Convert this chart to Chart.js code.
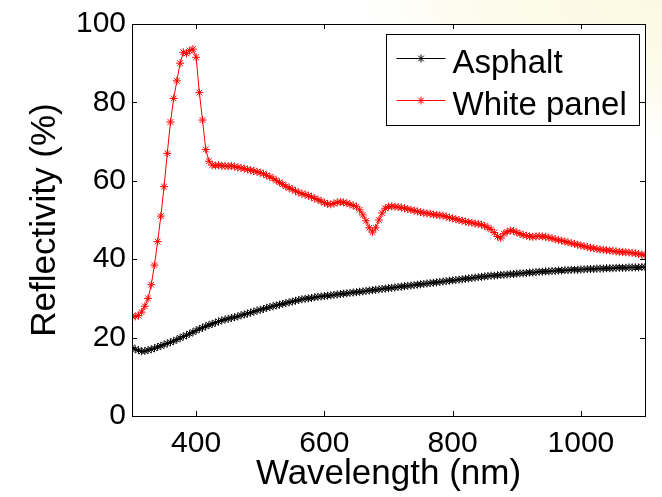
<!DOCTYPE html>
<html>
<head>
<meta charset="utf-8">
<script src="https://cdn.jsdelivr.net/npm/chart.js@4"></script>
<style>
  html, body { margin: 0; padding: 0; }
  body {
    width: 662px; height: 497px; overflow: hidden;
    background: radial-gradient(ellipse 300px 140px at 662px 0px, #fcf9e2 0%, #fdfbec 60%, #ffffff 100%);
  }
  #wrap { width: 662px; height: 497px; position: relative; }
</style>
</head>
<body>
<div id="wrap"><canvas id="myChart" width="662" height="497"></canvas></div>
<script>
// wavelength (nm)
const wavelengths = [
  300,305,310,315,320,325,330,335,340,345,350,355,360,365,370,375,380,385,390,395,
  400,405,410,415,420,425,430,435,440,445,450,455,460,465,470,475,480,485,490,495,
  500,505,510,515,520,525,530,535,540,545,550,555,560,565,570,575,580,585,590,595,
  600,605,610,615,620,625,630,635,640,645,650,655,660,665,670,675,680,685,690,695,
  700,705,710,715,720,725,730,735,740,745,750,755,760,765,770,775,780,785,790,795,
  800,805,810,815,820,825,830,835,840,845,850,855,860,865,870,875,880,885,890,895,
  900,905,910,915,920,925,930,935,940,945,950,955,960,965,970,975,980,985,990,995,
  1000,1005,1010,1015,1020,1025,1030,1035,1040,1045,1050,1055,1060,1065,1070,1075,1080,1085,1090,1095,
  1100
];

const asphalt = [
  17.5,17.0,16.8,16.5,16.6,16.8,17.0,17.3,17.6,17.9,18.2,18.5,18.8,19.1,19.5,19.9,20.3,20.6,21.0,21.4,
  21.8,22.2,22.5,22.9,23.2,23.5,23.8,24.1,24.4,24.6,24.8,25.0,25.2,25.4,25.7,25.9,26.1,26.4,26.6,26.9,
  27.1,27.3,27.6,27.8,28.0,28.2,28.4,28.6,28.8,29.0,29.2,29.4,29.6,29.8,29.9,30.0,30.1,30.3,30.4,30.5,
  30.6,30.7,30.8,30.9,31.0,31.1,31.2,31.3,31.4,31.5,31.6,31.7,31.8,31.9,32.0,32.1,32.2,32.3,32.4,32.5,
  32.6,32.7,32.8,32.9,33.0,33.1,33.2,33.3,33.4,33.5,33.6,33.7,33.8,33.9,34.0,34.1,34.2,34.3,34.4,34.5,
  34.6,34.7,34.8,34.9,35.0,35.1,35.2,35.3,35.4,35.5,35.6,35.7,35.8,35.8,35.9,36.0,36.0,36.1,36.2,36.2,
  36.3,36.4,36.4,36.5,36.6,36.6,36.7,36.8,36.8,36.9,36.9,37.0,37.0,37.1,37.1,37.2,37.2,37.3,37.3,37.3,
  37.4,37.4,37.5,37.5,37.5,37.6,37.6,37.6,37.7,37.7,37.7,37.8,37.8,37.8,37.8,37.9,37.9,37.9,37.9,38.0,
  38.0
];

const whitePanel = [
  25.5,25.4,25.6,26.5,28.0,30.0,33.5,38.5,44.5,51.0,58.5,67.0,75.0,81.0,85.5,90.0,92.8,92.5,93.2,93.6,
  91.5,82.5,75.5,68.0,65.0,64.0,63.9,64.0,63.8,63.8,63.7,63.8,63.6,63.4,63.3,63.1,62.9,62.7,62.5,62.3,
  62.1,61.8,61.4,61.0,60.6,60.1,59.6,59.1,58.6,58.2,57.8,57.4,57.0,56.7,56.5,56.2,55.9,55.5,55.2,54.8,
  54.4,54.1,54.0,54.2,54.5,54.6,54.5,54.3,54.0,53.7,53.4,52.6,51.3,49.8,48.0,46.9,48.0,50.0,51.8,53.0,
  53.4,53.5,53.4,53.3,53.2,53.0,52.8,52.6,52.4,52.2,52.0,51.8,51.7,51.6,51.4,51.3,51.2,51.1,50.9,50.6,
  50.4,50.2,50.0,49.8,49.6,49.4,49.3,49.1,49.0,48.8,48.5,48.1,47.6,46.8,45.8,45.4,46.5,47.0,47.3,47.2,
  46.8,46.5,46.2,46.0,45.8,45.7,45.8,45.9,45.8,45.7,45.5,45.3,45.1,44.9,44.7,44.5,44.3,44.1,43.9,43.7,
  43.5,43.3,43.1,42.9,42.8,42.6,42.5,42.4,42.3,42.2,42.1,42.0,41.9,41.8,41.8,41.7,41.6,41.5,41.3,41.2,
  41.0
];

const xTicks = [400, 600, 800, 1000];
const yTicks = [0, 20, 40, 60, 80, 100];
const seriesNames = ['Asphalt', 'White panel'];

const FONT = '"Liberation Sans", Arial, sans-serif';

function toPoints(vals) {
    return wavelengths.map(function(w, i) { return { x: w, y: vals[i] }; });
}

// white plot area, frame, inward ticks, legend box
const matlabLook = {
    id: 'matlabLook',
    beforeDraw(chart) {
        const a = chart.chartArea;
        const c = chart.ctx;
        c.save();
        c.fillStyle = '#ffffff';
        c.fillRect(a.left, a.top, a.right - a.left, a.bottom - a.top);
        c.restore();
    },
    afterDatasetsDraw(chart) {
        const a = chart.chartArea;
        const c = chart.ctx;
        const xs = chart.scales.x, ys = chart.scales.y;
        c.save();
        c.strokeStyle = '#000';
        c.lineWidth = 1;
        c.beginPath();
        xTicks.forEach(function(v) {
            const px = Math.round(xs.getPixelForValue(v)) + 0.5;
            c.moveTo(px, a.bottom); c.lineTo(px, a.bottom - 5);
            c.moveTo(px, a.top); c.lineTo(px, a.top + 5);
        });
        yTicks.forEach(function(v) {
            const py = Math.round(ys.getPixelForValue(v)) + 0.5;
            c.moveTo(a.left, py); c.lineTo(a.left + 5, py);
            c.moveTo(a.right, py); c.lineTo(a.right - 5, py);
        });
        c.stroke();
        c.strokeRect(Math.round(a.left) + 0.5, Math.round(a.top) + 0.5,
                     Math.round(a.right - a.left), Math.round(a.bottom - a.top));

        // legend
        const bw = 253, bh = 91;
        const bx = Math.round(a.right - 6 - bw) + 0.5, by = Math.round(a.top + 10) + 0.5;
        c.fillStyle = '#fff';
        c.fillRect(bx, by, bw, bh);
        c.strokeRect(bx, by, bw, bh);
        c.font = '33px ' + FONT;
        c.textBaseline = 'alphabetic';
        chart.data.datasets.forEach(function(ds, i) {
            const ly = by + 24 + i * 42;
            c.strokeStyle = ds.borderColor;
            c.lineWidth = 1;
            c.beginPath();
            c.moveTo(bx + 10, ly); c.lineTo(bx + 59, ly);
            c.stroke();
            Chart.helpers.drawPoint(c, { pointStyle: 'star', radius: 4, borderWidth: 1 }, bx + 34.5, ly);
            c.fillStyle = '#000';
            c.fillText(ds.label, bx + 66, by + 38 + i * 42);
        });
        c.restore();
    }
};

const ctx = document.getElementById('myChart');
new Chart(ctx, {
    type: 'line',
    data: {
        datasets: [{
            label: seriesNames[0],
            data: toPoints(asphalt),
            borderColor: '#000000',
            backgroundColor: 'transparent',
            borderWidth: 1,
            pointStyle: 'star',
            pointRadius: 4,
            pointBorderWidth: 1,
            pointBorderColor: '#000000',
            tension: 0
        }, {
            label: seriesNames[1],
            data: toPoints(whitePanel),
            borderColor: '#ff0000',
            backgroundColor: 'transparent',
            borderWidth: 1,
            pointStyle: 'star',
            pointRadius: 4,
            pointBorderWidth: 1,
            pointBorderColor: '#ff0000',
            tension: 0
        }]
    },
    options: {
        responsive: false,
        animation: false,
        devicePixelRatio: 1,
        layout: { padding: { top: 17, right: 17, left: 0, bottom: 0 } },
        plugins: {
            legend: { display: false },
            tooltip: { enabled: false }
        },
        scales: {
            x: {
                type: 'linear',
                min: 300,
                max: 1100,
                afterBuildTicks: function(scale) {
                    scale.ticks = xTicks.map(function(v) { return { value: v }; });
                },
                afterFit: function(scale) { scale.height = 81; },
                grid: { display: false, drawTicks: false },
                border: { display: false },
                ticks: {
                    color: '#000',
                    padding: 10,
                    maxRotation: 0,
                    font: { family: FONT, size: 30 },
                    callback: (value) => String(value)
                },
                title: {
                    display: true,
                    text: 'Wavelength (nm)',
                    color: '#000',
                    font: { family: FONT, size: 35 },
                    padding: { top: 0, bottom: 2 }
                }
            },
            y: {
                min: 0,
                max: 100,
                afterBuildTicks: function(scale) {
                    scale.ticks = yTicks.map(function(v) { return { value: v }; });
                },
                afterFit: function(scale) { scale.width = 132; },
                grid: { display: false, drawTicks: false },
                border: { display: false },
                ticks: {
                    color: '#000',
                    padding: 6,
                    font: { family: FONT, size: 30 },
                    callback: (value) => String(value)
                },
                title: {
                    display: true,
                    text: 'Reflectivity (%)',
                    color: '#000',
                    font: { family: FONT, size: 35 },
                    padding: { top: 24, bottom: 0 }
                }
            }
        }
    },
    plugins: [matlabLook]
});
</script>
</body>
</html>
